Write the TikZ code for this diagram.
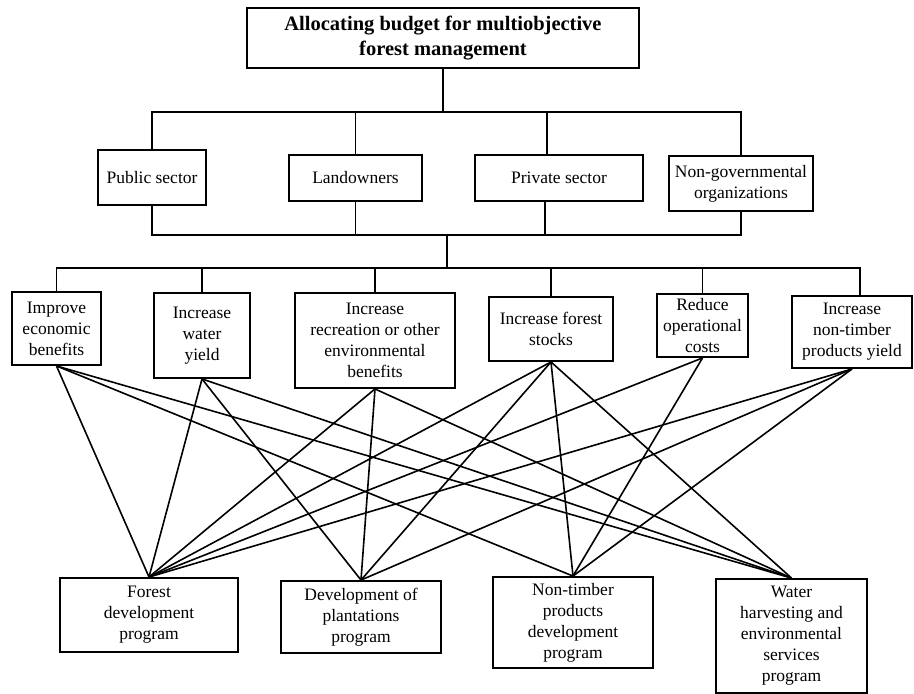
\documentclass[tikz,border=0pt]{standalone}
\usepackage{fontspec}
\setmainfont{Liberation Serif}
\tikzset{
  box/.style={draw, line width=1.9pt, align=center, inner sep=0pt,
    font=\fontsize{17.5}{21}\selectfont},
  titlebox/.style={box, font=\fontsize{20.5}{25}\selectfont\bfseries},
  link/.style={line width=1.6pt},
}
\begin{document}
\begin{tikzpicture}[x=1pt,y=-1pt]
\path[fill=white,use as bounding box] (0,0) rectangle (914,694);

% level 0
\node[titlebox, minimum width=392pt, minimum height=60pt] (title) at (443,38)
  {Allocating budget for multiobjective\\forest management};

% level 1
\node[box, minimum width=108pt, minimum height=55pt] (pub) at (152,177.5) {Public sector};
\node[box, minimum width=133pt, minimum height=46pt] (land) at (355.5,178) {Landowners};
\node[box, minimum width=168pt, minimum height=46pt] (priv) at (559,178) {Private sector};
\node[box, minimum width=144pt, minimum height=55pt] (ngo) at (741,183.5) {Non-governmental\\organizations};

% level 2
\node[box, minimum width=89pt, minimum height=73pt] (imp) at (56.5,328.5) {Improve\\economic\\benefits};
\node[box, minimum width=96pt, minimum height=85pt] (wy) at (202,335.5) {Increase\\water\\yield};
\node[box, minimum width=160pt, minimum height=95pt] (rec) at (375,340.5) {Increase\\recreation or other\\environmental\\benefits};
\node[box, minimum width=124pt, minimum height=64pt] (fs) at (551,329) {Increase forest\\stocks};
\node[box, minimum width=91pt, minimum height=63pt] (rc) at (702.5,325.5) {Reduce\\operational\\costs};
\node[box, minimum width=120pt, minimum height=72pt] (ntp) at (852,332) {Increase\\non-timber\\products yield};

% level 3
\node[box, minimum width=178pt, minimum height=74pt] (fd) at (149,615) {Forest\\development\\program};
\node[box, minimum width=160pt, minimum height=72pt] (pp) at (361,617) {Development of\\plantations\\program};
\node[box, minimum width=160pt, minimum height=91pt] (ntd) at (573,622.5) {Non-timber\\products\\development\\program};
\node[box, minimum width=151pt, minimum height=114pt] (wh) at (791.5,636) {Water\\harvesting and\\environmental\\services\\program};

% bus coordinates
\coordinate (b1) at (443,112);
\coordinate (b2) at (447,235);
\coordinate (b3) at (447,268);
\coordinate (pd1) at ([xshift=-12pt]priv.north);
\coordinate (pd2) at ([xshift=-14pt]priv.south);
\coordinate (nd) at ([xshift=8pt]ntp.north);

% title to level 1
\draw[link] (title.south) -- (b1);
\draw[link] (pub.north) |- (ngo.north |- b1) -- (ngo.north);
\draw[link] (land.north) -- (land.north |- b1);
\draw[link] (pd1) -- (pd1 |- b1);

% level 1 to level 2
\draw[link] (pub.south) |- (ngo.south |- b2) -- (ngo.south);
\draw[link] (land.south) -- (land.south |- b2);
\draw[link] (pd2) -- (pd2 |- b2);
\draw[link] (b2) -- (b3);
\draw[link] (imp.north) |- (nd |- b3) -- (nd);
\draw[link] (wy.north) -- (wy.north |- b3);
\draw[link] (rec.north) -- (rec.north |- b3);
\draw[link] (fs.north) -- (fs.north |- b3);
\draw[link] (rc.north) -- (rc.north |- b3);

% objectives to programs
\draw[link] (imp.south) -- (fd.north);
\draw[link] (imp.south) -- (ntd.north);
\draw[link] (imp.south) -- (wh.north);
\draw[link] (wy.south) -- (fd.north);
\draw[link] (wy.south) -- (pp.north);
\draw[link] (wy.south) -- (wh.north);
\draw[link] (rec.south) -- (fd.north);
\draw[link] (rec.south) -- (pp.north);
\draw[link] (rec.south) -- (wh.north);
\draw[link] (fs.south) -- (fd.north);
\draw[link] (fs.south) -- (pp.north);
\draw[link] (fs.south) -- (ntd.north);
\draw[link] (fs.south) -- (wh.north);
\draw[link] (rc.south) -- (fd.north);
\draw[link] (rc.south) -- (ntd.north);
\draw[link] (ntp.south) -- (fd.north);
\draw[link] (ntp.south) -- (pp.north);
\draw[link] (ntp.south) -- (ntd.north);
\end{tikzpicture}
\end{document}
